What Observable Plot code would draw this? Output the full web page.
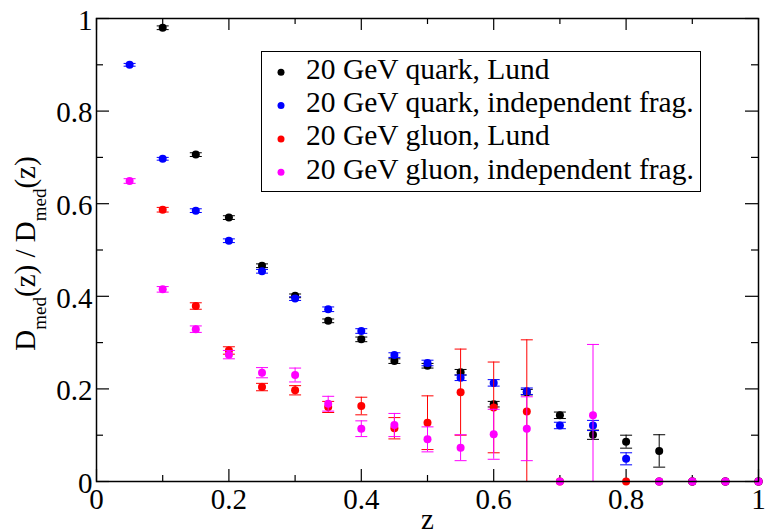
<!DOCTYPE html>
<html>
<head>
<meta charset="utf-8">
<script src="https://cdn.jsdelivr.net/npm/d3@7"></script>
<script src="https://cdn.jsdelivr.net/npm/@observablehq/plot@0.6"></script>
<style>
  html, body { margin: 0; padding: 0; background: #fff; }
  #chart svg { display: block; }
  #chart svg text { font-family: "Liberation Serif", "Times New Roman", serif; }
</style>
</head>
<body>
<div id="chart"></div>
<script>
// Momentum fraction bins
const zGrid = [0.05, 0.10, 0.15, 0.20, 0.25, 0.30, 0.35, 0.40, 0.45, 0.50,
               0.55, 0.60, 0.65, 0.70, 0.75, 0.80, 0.85, 0.90, 0.95, 1.00];

// Ratio values and statistical errors per sample (null = no entry)
const quarkLund     = [null, 0.980, 0.706, 0.570, 0.466, 0.401, 0.347, 0.307, 0.260, 0.250,
                       0.236, 0.167, 0.193, 0.143, 0.101, 0.086, 0.066, 0, 0, 0];
const quarkLundErr  = [null, 0.004, 0.004, 0.004, 0.004, 0.004, 0.004, 0.005, 0.005, 0.005,
                       0.006, 0.006, 0.006, 0.007, 0.010, 0.014, 0.035, 0, 0, 0];
const quarkIndep    = [0.900, 0.697, 0.585, 0.520, 0.454, 0.395, 0.372, 0.325, 0.273, 0.256,
                       0.224, 0.213, 0.195, 0.121, 0.121, 0.049, 0, 0, 0, 0];
const quarkIndepErr = [0.003, 0.003, 0.004, 0.004, 0.004, 0.004, 0.005, 0.005, 0.005, 0.006,
                       0.006, 0.007, 0.007, 0.007, 0.011, 0.013, 0, 0, 0, 0];
const gluonLund     = [null, 0.587, 0.379, 0.283, 0.204, 0.197, 0.161, 0.163, 0.115, 0.127,
                       0.193, 0.160, 0.151, 0, null, 0, 0, 0, 0, 0];
const gluonLundErr  = [null, 0.005, 0.007, 0.008, 0.008, 0.010, 0.012, 0.019, 0.023, 0.058,
                       0.093, 0.098, 0.155, 0, null, 0, 0, 0, 0, 0];
const gluonIndep    = [0.649, 0.415, 0.329, 0.274, 0.235, 0.230, 0.168, 0.114, 0.122, 0.091,
                       0.073, 0.102, 0.114, 0, 0.143, null, 0, 0, 0, 0];
const gluonIndepErr = [0.005, 0.006, 0.007, 0.009, 0.011, 0.015, 0.016, 0.017, 0.025, 0.027,
                       0.028, 0.054, 0.069, 0, 0.153, null, 0, 0, 0, 0];

const seriesNames  = ["20 GeV quark, Lund", "20 GeV quark, independent frag.",
                      "20 GeV gluon, Lund", "20 GeV gluon, independent frag."];
const seriesColors = ["#000000", "#0000ff", "#ff0000", "#ff00ff"];
const seriesValues = [quarkLund, quarkIndep, gluonLund, gluonIndep];
const seriesErrors = [quarkLundErr, quarkIndepErr, gluonLundErr, gluonIndepErr];

// Axis ticks
const xMajor = [0, 0.2, 0.4, 0.6, 0.8, 1];
const xMinor = [0.1, 0.3, 0.5, 0.7, 0.9];
const yMajor = [0, 0.2, 0.4, 0.6, 0.8, 1];
const yMinor = [0.1, 0.3, 0.5, 0.7, 0.9];
const tickLabels = ["0", "0.2", "0.4", "0.6", "0.8", "1"];

const W = 765, H = 531;
const mL = 96, mR = 7, mT = 18, mB = 50;
const pw = W - mL - mR, ph = H - mT - mB;

// Horizontal error-bar cap drawn as a dot symbol
const cap = { draw(ctx, size) { const w = Math.sqrt(size / Math.PI); ctx.moveTo(-w, 0); ctx.lineTo(w, 0); } };

const rowsFor = (i) => zGrid
  .map((z, k) => ({z, v: seriesValues[i][k], e: seriesErrors[i][k]}))
  .filter(d => d.v !== null);

const seriesMarks = seriesNames.flatMap((name, i) => {
  const rows = rowsFor(i);
  const bars = rows.filter(d => d.e > 0);
  const c = seriesColors[i];
  return [
    Plot.ruleX(bars, {x: "z", y1: d => d.v - d.e, y2: d => d.v + d.e, stroke: c, strokeWidth: 1, clip: true}),
    Plot.dot(bars, {x: "z", y: d => d.v - d.e, symbol: cap, r: 6, stroke: c, strokeWidth: 1, fill: "none", clip: true}),
    Plot.dot(bars, {x: "z", y: d => d.v + d.e, symbol: cap, r: 6, stroke: c, strokeWidth: 1, fill: "none", clip: true}),
    Plot.dot(rows, {x: "z", y: "v", r: 4, fill: c, stroke: "none"})
  ];
});

const chart = Plot.plot({
  width: W, height: H,
  marginLeft: mL, marginRight: mR, marginTop: mT, marginBottom: mB,
  style: {background: "#fff", overflow: "visible"},
  x: {domain: [0, 1]},
  y: {domain: [0, 1]},
  marks: [
    // inward ticks on all four sides
    Plot.ruleX(xMajor, {stroke: "black", strokeWidth: 1.2, insetTop: ph - 12}),
    Plot.ruleX(xMinor, {stroke: "black", strokeWidth: 1.2, insetTop: ph - 6}),
    Plot.ruleX(xMajor, {stroke: "black", strokeWidth: 1.2, insetBottom: ph - 12}),
    Plot.ruleX(xMinor, {stroke: "black", strokeWidth: 1.2, insetBottom: ph - 6}),
    Plot.ruleY(yMajor, {stroke: "black", strokeWidth: 1.2, insetRight: pw - 13}),
    Plot.ruleY(yMinor, {stroke: "black", strokeWidth: 1.2, insetRight: pw - 7}),
    Plot.ruleY(yMajor, {stroke: "black", strokeWidth: 1.2, insetLeft: pw - 13}),
    Plot.ruleY(yMinor, {stroke: "black", strokeWidth: 1.2, insetLeft: pw - 7}),
    Plot.axisX(xMajor, {tickSize: 0, tickPadding: 6.5, fontSize: 29, fill: "black",
                        tickFormat: (d, i) => tickLabels[i], label: null}),
    Plot.axisY(yMajor, {tickSize: 0, tickPadding: 4, dy: 2, fontSize: 29, fill: "black",
                        tickFormat: (d, i) => tickLabels[i], label: null}),
    ...seriesMarks,
    Plot.frame({stroke: "black", strokeWidth: 1.5}),
    Plot.text(["z"], {frameAnchor: "bottom", dy: 47, lineAnchor: "bottom", fontSize: 29, fill: "black"})
  ]
});

document.getElementById("chart").appendChild(chart);

const svg = d3.select(chart);

// Rotated y-axis title with subscripts
const yt = svg.append("text")
  .attr("transform", `translate(35, ${mT + ph / 2 + 4}) rotate(-90)`)
  .attr("text-anchor", "middle")
  .attr("font-size", 29)
  .attr("fill", "black");
yt.append("tspan").text("D");
yt.append("tspan").attr("dy", 11).attr("font-size", 19).text("med");
yt.append("tspan").attr("dy", -11).text("(z) / D");
yt.append("tspan").attr("dy", 11).attr("font-size", 19).text("med");
yt.append("tspan").attr("dy", -11).text("(z)");

// Legend box
const lg = svg.append("g").attr("text-anchor", "start");
lg.append("rect")
  .attr("x", 261.5).attr("y", 51.5).attr("width", 439).attr("height", 140)
  .attr("fill", "white").attr("stroke", "black").attr("stroke-width", 1);
seriesNames.forEach((name, i) => {
  const cy = 72.3 + i * 33.3;
  lg.append("circle").attr("cx", 281).attr("cy", cy).attr("r", 3.5).attr("fill", seriesColors[i]);
  lg.append("text").attr("x", 306).attr("y", cy + 6.5)
    .attr("text-anchor", "start")
    .attr("font-size", 29.5).attr("fill", "black")
    .text(name);
});
</script>
</body>
</html>
